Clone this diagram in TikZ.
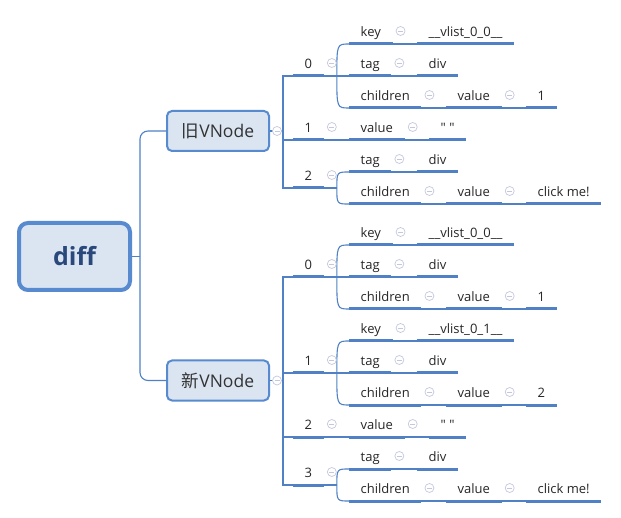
\documentclass[tikz,border=0pt]{standalone}
\usepackage{fontspec}
\setmainfont{Open Sans}
\newfontfamily\plainfont{Open Sans}
\newfontfamily\cjk{Noto Sans CJK SC}
\usetikzlibrary{positioning,calc}

\definecolor{mapblue}{RGB}{79,129,196}
\definecolor{boxfill}{RGB}{219,229,242}
\definecolor{rootblue}{RGB}{88,138,208}
\definecolor{roottext}{RGB}{42,72,122}
\definecolor{foldgray}{RGB}{196,200,222}

\newcommand\fold[1]{\node[fold] (f#1) at ($(#1.south east)+(8,-13)$) {};}

\begin{document}
\begin{tikzpicture}[x=1pt, y=-1pt, font=\fontsize{13}{15}\selectfont,
    conn/.style={line width=1.1pt, mapblue},
    uline/.style={line width=3pt, mapblue},
    tp/.style={anchor=south west, inner xsep=11.5pt, inner ysep=4pt,
               text height=10pt, text depth=3pt, text=black!85},
    fold/.style={circle, draw=foldgray, fill=white, line width=0.7pt,
                 minimum size=9pt, inner sep=0pt,
                 path picture={\draw[foldgray, line width=0.7pt]
                   ([xshift=-2.5pt]path picture bounding box.center) --
                   ([xshift=2.5pt]path picture bounding box.center);}},
    vbox/.style={draw=rootblue, fill=boxfill, line width=2pt, rounded corners=5pt,
                 minimum width=102pt, minimum height=40pt,
                 font=\fontsize{17.5}{20}\selectfont, text=black!80},
    rootbox/.style={draw=rootblue, fill=boxfill, line width=4pt, rounded corners=9pt,
                    minimum width=111pt, minimum height=67pt,
                    font=\bfseries\fontsize{25}{28}\selectfont, text=roottext}]
  \useasboundingbox (0,0) rectangle (621,518);

  \node[rootbox] (root) at (74.5,256.5) {diff};
  \node[vbox] (old) at (218,131) {{\cjk 旧}VNode};
  \node[vbox] (new) at (218,380.5) {{\cjk 新}VNode};

  % old tree
  \node[tp] (o0)    at (293,76)  {0};
  \node[tp] (o1)    at (293,140) {1};
  \node[tp] (o2)    at (293,188) {2};
  \node[tp] (ok)    at (349,44)  {key};
  \node[tp] (okv)   at (417,44)  {\_\_vlist\_0\_0\_\_};
  \node[tp] (ot)    at (349,76)  {tag};
  \node[tp] (otv)   at (417,76)  {div};
  \node[tp] (oc)    at (349,108) {children};
  \node[tp] (ocv)   at (446,108) {value};
  \node[tp] (ocvv)  at (526,108) {1};
  \node[tp] (o1v)   at (349,140) {value};
  \node[tp] (o1vv)  at (429,140) {\plainfont"\ "};
  \node[tp] (o2t)   at (349,172) {tag};
  \node[tp] (o2tv)  at (417,172) {div};
  \node[tp] (o2c)   at (349,204) {children};
  \node[tp] (o2cv)  at (446,204) {value};
  \node[tp] (o2cvv) at (526,204) {click me!};

  % new tree
  \node[tp] (n0)    at (293,277) {0};
  \node[tp] (n1)    at (293,373) {1};
  \node[tp] (n2)    at (293,437) {2};
  \node[tp] (n3)    at (293,485) {3};
  \node[tp] (n0k)   at (349,245) {key};
  \node[tp] (n0kv)  at (417,245) {\_\_vlist\_0\_0\_\_};
  \node[tp] (n0t)   at (349,277) {tag};
  \node[tp] (n0tv)  at (417,277) {div};
  \node[tp] (n0c)   at (349,309) {children};
  \node[tp] (n0cv)  at (446,309) {value};
  \node[tp] (n0cvv) at (526,309) {1};
  \node[tp] (n1k)   at (349,341) {key};
  \node[tp] (n1kv)  at (417,341) {\_\_vlist\_0\_1\_\_};
  \node[tp] (n1t)   at (349,373) {tag};
  \node[tp] (n1tv)  at (417,373) {div};
  \node[tp] (n1c)   at (349,405) {children};
  \node[tp] (n1cv)  at (446,405) {value};
  \node[tp] (n1cvv) at (526,405) {2};
  \node[tp] (n2v)   at (349,437) {value};
  \node[tp] (n2vv)  at (429,437) {\plainfont"\ "};
  \node[tp] (n3t)   at (349,469) {tag};
  \node[tp] (n3tv)  at (417,469) {div};
  \node[tp] (n3c)   at (349,501) {children};
  \node[tp] (n3cv)  at (446,501) {value};
  \node[tp] (n3cvv) at (526,501) {click me!};

  % root connectors
  \coordinate (hub) at ($(root.east)+(8,0)$);
  \draw[conn] (root.east) -- (hub);
  \draw[conn, rounded corners=8pt] (old.west) -| (hub) |- (new.west);

  % old connectors
  \coordinate (ob) at ($(old.east)+(13,0)$);
  \draw[conn] (old.east) -- (ob);
  \draw[conn] (o0.south west) -| (ob) |- (o2.south west);
  \draw[conn] (ob |- o1.south west) -- (o1.south west);
  \coordinate (o0j) at ($(o0.south east)+(13,0)$);
  \draw[conn] (o0.south east) -- (ot.south west);
  \draw[conn] (o0j) .. controls (o0j |- ok.south west) .. (ok.south west);
  \draw[conn] (o0j) .. controls (o0j |- oc.south west) .. (oc.south west);
  \draw[conn] (ok.south east) -- (okv.south west);
  \draw[conn] (ot.south east) -- (otv.south west);
  \draw[conn] (oc.south east) -- (ocv.south west);
  \draw[conn] (ocv.south east) -- (ocvv.south west);
  \draw[conn] (o1.south east) -- (o1v.south west);
  \draw[conn] (o1v.south east) -- (o1vv.south west);
  \coordinate (o2j) at ($(o2.south east)+(13,0)$);
  \draw[conn] (o2.south east) -- (o2j);
  \draw[conn] (o2j) .. controls (o2j |- o2t.south west) .. (o2t.south west);
  \draw[conn] (o2j) .. controls (o2j |- o2c.south west) .. (o2c.south west);
  \draw[conn] (o2t.south east) -- (o2tv.south west);
  \draw[conn] (o2c.south east) -- (o2cv.south west);
  \draw[conn] (o2cv.south east) -- (o2cvv.south west);

  % new connectors
  \coordinate (nb) at ($(new.east)+(13,0)$);
  \draw[conn] (new.east) -- (nb);
  \draw[conn] (n0.south west) -| (nb) |- (n3.south west);
  \draw[conn] (nb |- n1.south west) -- (n1.south west);
  \draw[conn] (nb |- n2.south west) -- (n2.south west);
  \coordinate (n0j) at ($(n0.south east)+(13,0)$);
  \draw[conn] (n0.south east) -- (n0t.south west);
  \draw[conn] (n0j) .. controls (n0j |- n0k.south west) .. (n0k.south west);
  \draw[conn] (n0j) .. controls (n0j |- n0c.south west) .. (n0c.south west);
  \draw[conn] (n0k.south east) -- (n0kv.south west);
  \draw[conn] (n0t.south east) -- (n0tv.south west);
  \draw[conn] (n0c.south east) -- (n0cv.south west);
  \draw[conn] (n0cv.south east) -- (n0cvv.south west);
  \coordinate (n1j) at ($(n1.south east)+(13,0)$);
  \draw[conn] (n1.south east) -- (n1t.south west);
  \draw[conn] (n1j) .. controls (n1j |- n1k.south west) .. (n1k.south west);
  \draw[conn] (n1j) .. controls (n1j |- n1c.south west) .. (n1c.south west);
  \draw[conn] (n1k.south east) -- (n1kv.south west);
  \draw[conn] (n1t.south east) -- (n1tv.south west);
  \draw[conn] (n1c.south east) -- (n1cv.south west);
  \draw[conn] (n1cv.south east) -- (n1cvv.south west);
  \draw[conn] (n2.south east) -- (n2v.south west);
  \draw[conn] (n2v.south east) -- (n2vv.south west);
  \coordinate (n3j) at ($(n3.south east)+(13,0)$);
  \draw[conn] (n3.south east) -- (n3j);
  \draw[conn] (n3j) .. controls (n3j |- n3t.south west) .. (n3t.south west);
  \draw[conn] (n3j) .. controls (n3j |- n3c.south west) .. (n3c.south west);
  \draw[conn] (n3t.south east) -- (n3tv.south west);
  \draw[conn] (n3c.south east) -- (n3cv.south west);
  \draw[conn] (n3cv.south east) -- (n3cvv.south west);

  % underlines
  \foreach \n in {o0,o1,o2,ok,okv,ot,otv,oc,ocv,ocvv,o1v,o1vv,o2t,o2tv,o2c,o2cv,o2cvv,
                  n0,n1,n2,n3,n0k,n0kv,n0t,n0tv,n0c,n0cv,n0cvv,n1k,n1kv,n1t,n1tv,
                  n1c,n1cv,n1cvv,n2v,n2vv,n3t,n3tv,n3c,n3cv,n3cvv}
    \draw[uline] (\n.south west) -- (\n.south east);

  % fold marks
  \node[fold] (fold) at ($(old.east)+(7,0)$) {};
  \node[fold] (fnew) at ($(new.east)+(7,0)$) {};
  \foreach \n in {o0,ok,ot,oc,ocv,o1,o1v,o2,o2t,o2c,o2cv,
                  n0,n0k,n0t,n0c,n0cv,n1,n1k,n1t,n1c,n1cv,n2,n2v,n3,n3t,n3c,n3cv}
    {\fold{\n}}
\end{tikzpicture}
\end{document}
